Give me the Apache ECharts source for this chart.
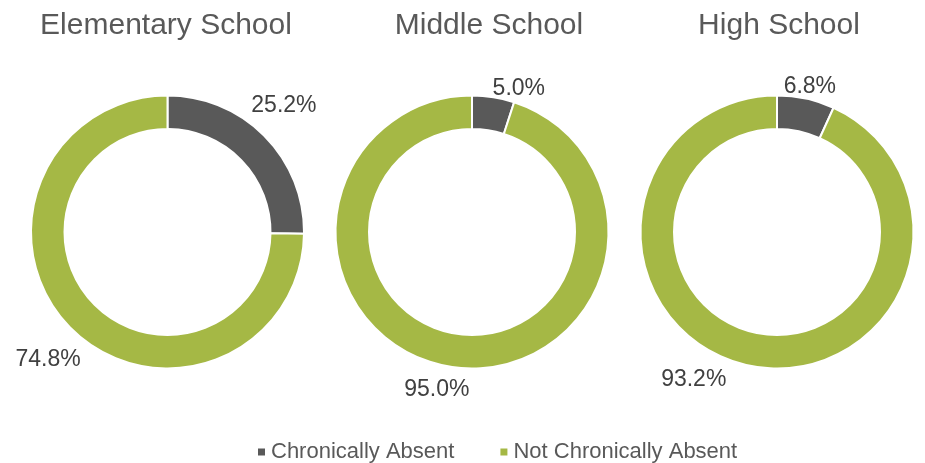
<!DOCTYPE html>
<html><head><meta charset="utf-8">
<script src="https://cdn.jsdelivr.net/npm/echarts@6/dist/echarts.min.js"></script>
<style>html,body{margin:0;padding:0;background:#fff}#c{width:925px;height:463px}</style>
</head><body><div id="c"></div>
<script>
const schools = ['Elementary School', 'Middle School', 'High School'];
const categories = ['Chronically Absent', 'Not Chronically Absent'];
const chronicallyAbsent = [25.2, 5.0, 6.8];
const notChronicallyAbsent = [74.8, 95.0, 93.2];
const colors = ['#595959', '#a5b845'];
const centersX = [167.5, 472, 777];
const titleX = [161, 484, 774];
// label nudges [series][dataIndex] = [dx, dy]
const labelNudge = [[[-24, -25], [21, 26]], [[-7, -1], [25, 15]], [[-29, -4], [-15, 6]]];

const chart = echarts.init(document.getElementById('c'));
const FONT = '"Liberation Sans", Arial, sans-serif';
chart.setOption({
  animation: false,
  color: colors,
  title: schools.map((s, i) => ({
    text: s, left: titleX[i], top: 6, textAlign: 'center',
    textStyle: {fontFamily: FONT, fontSize: 30, fontWeight: 'normal', color: '#595959'}
  })),
  legend: {
    bottom: -5, left: 251, itemWidth: 9, itemHeight: 9, itemGap: 44,
    icon: 'rect',
    textStyle: {fontFamily: FONT, fontSize: 22, color: '#595959'},
    data: categories
  },
  series: schools.map((s, i) => ({
    type: 'pie', name: s,
    center: [centersX[i], 232], radius: [103, 136.5],
    startAngle: 90, clockwise: true,
    itemStyle: {borderColor: '#fff', borderWidth: 2},
    label: {show: true, position: 'outside', overflow: 'none',
      formatter: p => p.value.toFixed(1) + '%',
      fontFamily: FONT, fontSize: 23, color: '#404040'},
    labelLine: {show: false, length: 8, length2: 0},
    labelLayout: p => ({dx: labelNudge[i][p.dataIndex][0], dy: labelNudge[i][p.dataIndex][1]}),
    data: [
      {name: categories[0], value: chronicallyAbsent[i]},
      {name: categories[1], value: notChronicallyAbsent[i]}
    ]
  }))
});
</script></body></html>
